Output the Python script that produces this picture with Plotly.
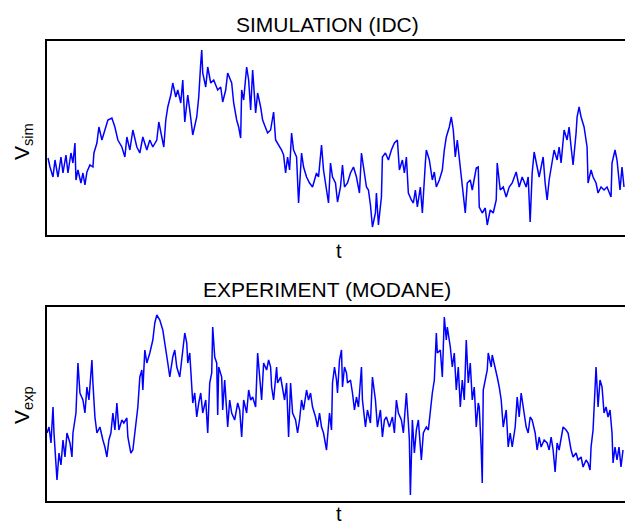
import plotly.graph_objects as go
from plotly.subplots import make_subplots

# ---- data (t and V in arbitrary units) ----
t_sim = [1, 3, 6, 8, 11, 14, 16, 19, 21, 24, 26, 28, 29, 31, 34, 36, 38, 40, 43, 46, 47, 50, 52, 55, 58,
         61, 65, 68, 71, 75, 78, 80, 83, 86, 90, 93, 96, 100, 103, 106, 110, 112, 115, 117, 119, 121, 124,
         126, 129, 131, 134, 136, 138, 140, 141, 143, 146, 150, 152, 154, 155, 156, 159, 161, 164, 167, 171,
         174, 176, 179, 181, 185, 187, 190, 192, 194, 195, 197, 200, 202, 204, 206, 209, 211, 214, 216, 219,
         221, 224, 227, 229, 231, 235, 237, 239, 241, 243, 245, 247, 250, 252, 255, 257, 260, 263, 266, 270,
         272, 275, 277, 280, 282, 284, 286, 289, 291, 294, 296, 298, 301, 304, 307, 310, 313, 315, 318, 320,
         322, 324, 326, 329, 330, 332, 335, 336, 339, 342, 345, 348, 351, 353, 356, 358, 360, 362, 365, 367,
         369, 371, 374, 376, 379, 380, 383, 386, 388, 390, 393, 396, 398, 400, 403, 405, 407, 409, 411, 413,
         415, 417, 419, 421, 424, 426, 430, 432, 433, 436, 439, 441, 444, 447, 450, 451, 454, 457, 460, 463,
         466, 470, 473, 476, 480, 482, 484, 486, 488, 491, 493, 495, 497, 499, 501, 503, 505, 508, 511, 513,
         515, 518, 521, 523, 525, 527, 530, 531, 533, 535, 538, 541, 542, 545, 547, 550, 552, 555, 558, 561,
         565, 566, 569, 571, 574, 576, 578]
v_sim = [77, 68, 58, 75, 58, 78, 62, 80, 62, 82, 72, 92, 55, 65, 52, 62, 50, 63, 70, 68, 82, 92, 108, 95,
         105, 115, 117, 108, 95, 88, 78, 98, 85, 105, 88, 82, 98, 85, 95, 88, 95, 113, 98, 88, 115, 128, 140,
         152, 138, 145, 132, 155, 113, 132, 140, 125, 100, 118, 138, 172, 185, 162, 148, 168, 152, 155, 145,
         148, 133, 145, 162, 152, 132, 115, 108, 97, 145, 135, 168, 155, 125, 165, 122, 142, 128, 115, 108,
         102, 105, 123, 95, 92, 85, 80, 62, 78, 65, 102, 85, 78, 32, 82, 68, 58, 52, 48, 62, 58, 90, 65, 42,
         32, 72, 58, 52, 33, 48, 70, 48, 52, 62, 68, 58, 42, 82, 62, 48, 45, 30, 8, 22, 42, 10, 38, 78, 82, 75,
         85, 92, 95, 65, 75, 62, 78, 42, 35, 32, 45, 28, 48, 22, 72, 85, 75, 55, 63, 48, 55, 65, 85, 98, 108,
         118, 105, 78, 95, 78, 62, 42, 22, 52, 55, 45, 67, 68, 28, 22, 27, 10, 25, 22, 35, 72, 45, 48, 38, 48,
         52, 63, 48, 58, 48, 58, 13, 62, 83, 68, 58, 68, 78, 52, 35, 55, 68, 85, 75, 88, 72, 105, 95, 108, 88,
         70, 102, 118, 128, 118, 108, 88, 52, 65, 58, 52, 42, 48, 45, 48, 38, 72, 85, 75, 45, 68, 48]

t_exp = [0, 2, 4, 6, 7, 9, 10, 12, 14, 16, 18, 20, 23, 25, 26, 29, 31, 33, 36, 38, 40, 42, 45, 46, 48, 50,
         53, 56, 58, 60, 62, 64, 66, 68, 70, 72, 75, 77, 80, 81, 84, 86, 89, 91, 93, 95, 96, 98, 100, 103,
         106, 108, 110, 113, 116, 118, 120, 121, 123, 126, 128, 130, 133, 136, 138, 140, 141, 143, 145, 146,
         148, 150, 152, 154, 156, 159, 161, 163, 165, 166, 168, 170, 171, 172, 175, 176, 178, 181, 183, 185,
         188, 191, 193, 195, 197, 200, 202, 204, 206, 209, 211, 213, 215, 217, 220, 222, 224, 225, 227, 230,
         231, 234, 236, 238, 240, 242, 244, 246, 249, 251, 253, 255, 257, 260, 262, 264, 266, 269, 271, 273,
         275, 277, 280, 281, 283, 285, 286, 288, 290, 291, 293, 295, 296, 298, 300, 301, 304, 306, 308, 310,
         312, 315, 316, 319, 321, 324, 326, 329, 331, 334, 336, 338, 340, 343, 346, 348, 350, 352, 355, 357,
         360, 362, 363, 364, 366, 368, 370, 372, 375, 377, 380, 382, 384, 386, 388, 390, 391, 394, 396, 398,
         400, 401, 404, 406, 408, 410, 412, 414, 416, 418, 420, 422, 424, 426, 428, 430, 432, 433, 435, 436,
         437, 439, 441, 442, 445, 446, 449, 451, 453, 455, 457, 460, 462, 464, 466, 469, 471, 473, 475, 477,
         480, 482, 484, 486, 489, 491, 493, 495, 498, 501, 503, 505, 507, 509, 511, 513, 515, 517, 520, 522,
         525, 527, 530, 532, 535, 537, 540, 542, 544, 545, 547, 549, 550, 552, 554, 556, 558, 560, 562, 564,
         566, 567, 569, 571, 573, 575, 577]
v_exp = [68, 74, 58, 94, 68, 41, 21, 48, 36, 61, 44, 68, 58, 44, 68, 88, 138, 108, 101, 88, 114, 101, 141,
         118, 84, 68, 74, 61, 54, 44, 61, 68, 88, 71, 98, 71, 81, 78, 83, 64, 48, 51, 74, 94, 124, 131, 111,
         151, 138, 148, 161, 178, 186, 181, 171, 159, 144, 138, 124, 144, 151, 134, 124, 151, 168, 158, 138,
         148, 118, 98, 108, 84, 98, 108, 88, 101, 68, 118, 128, 174, 144, 138, 86, 134, 124, 91, 121, 74, 101,
         88, 81, 98, 91, 64, 101, 88, 111, 101, 104, 94, 148, 124, 101, 138, 131, 141, 134, 114, 101, 134,
         118, 124, 114, 101, 118, 64, 118, 88, 81, 68, 81, 101, 91, 111, 101, 108, 94, 84, 74, 88, 74, 68, 51,
         61, 88, 71, 118, 134, 121, 108, 141, 151, 114, 134, 128, 118, 121, 108, 91, 104, 94, 134, 101, 74,
         91, 78, 124, 101, 74, 91, 64, 81, 84, 74, 84, 68, 101, 88, 81, 68, 108, 78, 61, 6, 81, 48, 71, 81, 41,
         68, 74, 71, 91, 108, 121, 168, 148, 151, 124, 184, 161, 174, 154, 134, 148, 111, 134, 94, 121, 101,
         161, 118, 138, 101, 114, 74, 98, 94, 51, 18, 111, 121, 131, 148, 134, 146, 134, 124, 114, 101, 74,
         91, 54, 68, 54, 74, 104, 84, 108, 94, 74, 68, 84, 81, 68, 51, 64, 54, 61, 58, 51, 64, 51, 29, 58, 51,
         64, 74, 71, 68, 51, 44, 48, 41, 44, 34, 41, 38, 31, 54, 71, 111, 134, 94, 121, 114, 88, 94, 84, 91,
         68, 38, 54, 41, 54, 34, 51]

BLUE = "rgb(0,0,255)"
FONT = "Liberation Sans, Arial, sans-serif"

fig = make_subplots(rows=2, cols=1, vertical_spacing=0.1566)
fig.add_trace(go.Scatter(x=t_sim, y=v_sim, mode="lines",
                         line=dict(color=BLUE, width=1.5)), row=1, col=1)
fig.add_trace(go.Scatter(x=t_exp, y=v_exp, mode="lines",
                         line=dict(color=BLUE, width=1.5)), row=2, col=1)

axis_common = dict(showgrid=False, zeroline=False, showticklabels=False, ticks="",
                   showline=True, linecolor="black", linewidth=1.5)
fig.update_xaxes(range=[0, 579], mirror=True, **axis_common)
fig.update_yaxes(range=[0, 194], mirror=False, **axis_common)
fig.update_layout(
    xaxis=dict(domain=[0, 1]), xaxis2=dict(domain=[0, 1]),
    yaxis=dict(domain=[266 / 460, 1]), yaxis2=dict(domain=[0, 194 / 460]),
)

def ypaper(ypix):
    return 1 + (41 - ypix) / 460

def xpaper(xpix):
    return (xpix - 47) / 578

for txt, ypix in (("SIMULATION (IDC)", 24), ("EXPERIMENT (MODANE)", 289)):
    fig.add_annotation(text=txt, x=xpaper(327), xref="paper", y=ypaper(ypix), yref="paper",
                       showarrow=False, font=dict(family=FONT, size=21, color="black"),
                       xanchor="center", yanchor="middle")
for ypix in (251, 514):
    fig.add_annotation(text="t", x=xpaper(339), xref="paper", y=ypaper(ypix), yref="paper",
                       showarrow=False, font=dict(family=FONT, size=20, color="black"),
                       xanchor="center", yanchor="middle")
for lab, ypix in (("V<sub>sim</sub>", 142), ("V<sub>exp</sub>", 405)):
    fig.add_annotation(text=lab, x=xpaper(23), xref="paper", y=ypaper(ypix), yref="paper",
                       showarrow=False, textangle=-90,
                       font=dict(family=FONT, size=21, color="black"),
                       xanchor="center", yanchor="middle")

fig.update_layout(
    width=625, height=526,
    margin=dict(l=47, r=0, t=41, b=25),
    plot_bgcolor="white", paper_bgcolor="white",
    showlegend=False,
)
fig.write_html("out.html")
